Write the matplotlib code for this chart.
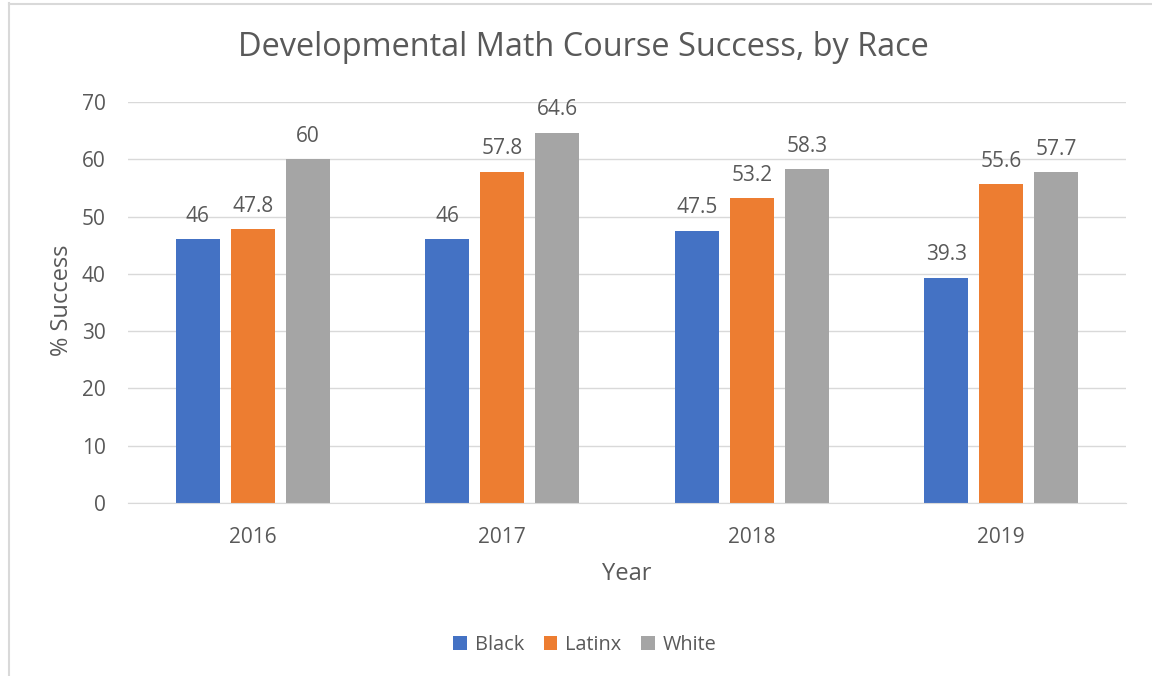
import matplotlib
matplotlib.use("Agg")
import matplotlib.pyplot as plt
from matplotlib.lines import Line2D
from matplotlib.patches import Patch
import numpy as np

years = ["2016", "2017", "2018", "2019"]
series_names = ["Black", "Latinx", "White"]
black = [46, 46, 47.5, 39.3]
latinx = [47.8, 57.8, 53.2, 55.6]
white = [60, 64.6, 58.3, 57.7]
labels_black = ["46", "46", "47.5", "39.3"]
labels_latinx = ["47.8", "57.8", "53.2", "55.6"]
labels_white = ["60", "64.6", "58.3", "57.7"]
colors = ["#4472C4", "#ED7D31", "#A5A5A5"]
yticks = [0, 10, 20, 30, 40, 50, 60, 70]

plt.rcParams['font.family'] = ['Open Sans', 'DejaVu Sans']
txt = "#595959"

fig = plt.figure(figsize=(11.52, 6.76), dpi=100)
ax = fig.add_axes([128/1152, 1-503/676, (1126-128)/1152, (503-102)/676])

x = np.arange(len(years))
w = 44/249.5
step = 55/249.5
for i, (vals, labs) in enumerate(zip([black, latinx, white], [labels_black, labels_latinx, labels_white])):
    bars = ax.bar(x + (i-1)*step, vals, width=w, color=colors[i], label=series_names[i], zorder=3)
    ax.bar_label(bars, labels=labs, padding=9, fontsize=15, color=txt)

ax.set_xlim(-0.5, 3.5)
ax.set_ylim(0, 70)
ax.set_yticks(yticks)
ax.set_xticks(x)
ax.set_xticklabels(years)
ax.tick_params(axis='both', length=0, labelsize=15, colors=txt)
ax.tick_params(axis='y', pad=16)
ax.tick_params(axis='x', pad=17)
ax.grid(axis='y', color='#d9d9d9', linewidth=1, zorder=0)
for s in ['top', 'right', 'left']:
    ax.spines[s].set_visible(False)
ax.spines['bottom'].set_color('#d9d9d9')
ax.spines['bottom'].set_zorder(4)

ax.set_ylabel("% Success", fontsize=17, color=txt, va='center')
ax.yaxis.set_label_coords((62-128)/998, (503-300)/401)
ax.set_xlabel("Year", fontsize=17, color=txt, va='center')
ax.xaxis.set_label_coords(0.5, (503-574)/401)

fig.text(583/1152, 1-47/676, "Developmental Math Course Success, by Race",
         ha='center', va='center', fontsize=23.4, color=txt)

handles = [Patch(facecolor=c, label=n) for c, n in zip(colors, series_names)]
fig.legend(handles=handles, loc='center', bbox_to_anchor=(585/1152, 1-645/676), ncol=3,
           frameon=False, fontsize=14.3, labelcolor=txt, handlelength=0.68, handleheight=0.68,
           handletextpad=0.4, columnspacing=1.0)

# chart border (left and top visible)
fig.add_artist(Line2D([8.5/1152, 8.5/1152], [0, 1-3/676], transform=fig.transFigure, color='#d9d9d9', lw=1.5))
fig.add_artist(Line2D([8.5/1152, 1], [1-3.5/676, 1-3.5/676], transform=fig.transFigure, color='#d9d9d9', lw=1.5))

fig.savefig("out.png", dpi=100)
